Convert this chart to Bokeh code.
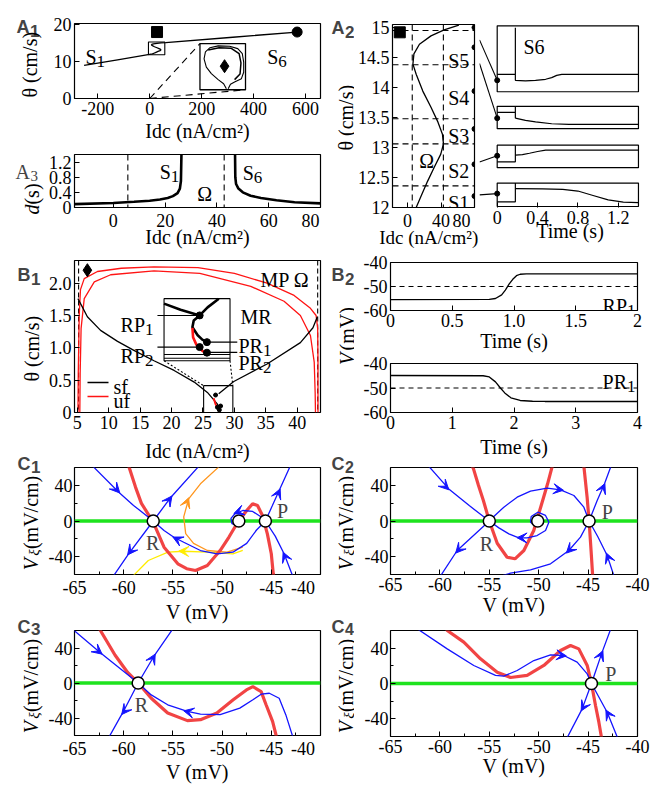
import math
from bokeh.plotting import figure
from bokeh.layouts import row, column
from bokeh.models import (Range1d, FixedTicker, Label, Arrow, VeeHead,
                          ColumnDataSource, Span)
from bokeh.embed import file_html
from bokeh.resources import INLINE

SERIF = "Liberation Serif"
SANS = "Liberation Sans"
BLUE = "#1414ff"
RED_C = "#f03a3a"
RED_B = "#ff1414"
GREEN = "#1ee31e"
ORANGE = "#ff961e"
YELLOW = "#ffec00"
NB = "\u00a0"

# ======================= DATA =======================
# A1 : theta vs Idc (S1 branch, S-fold (A2), S6 branch)
a1_s1_idc = [-253, -124, 10.3]
a1_s1_theta = [8.9, 10.42, 12.0]
a2_idc = [10.3, 16.2, 24.0, 31.9, 39.7, 42.9, 41.7, 35.8, 28.0, 18.2, 10.3, 6.4, 7.6, 14.2, 28.0, 43.7, 61.3]
a2_theta = [12.0, 12.19, 12.44, 12.67, 12.89, 13.06, 13.22, 13.44, 13.67, 13.94, 14.22, 14.39, 14.56, 14.72, 14.86, 14.96, 15.04]
a1_s6_idc = [61.3, 320, 568]
a1_s6_theta = [15.04, 16.5, 17.9]
a1_square = ([28], [17.9])
a1_circle = ([568], [17.9])
a1_zoom_box = (-5, 58, 11.8, 15.2)
a1_inset_box = (193.5, 369, 2.35, 14.8)
a1_in_outer_u = [0.58, 0.52, 0.40, 0.25, 0.14, 0.09, 0.12, 0.22, 0.40, 0.65, 0.83, 0.93, 0.96, 0.96, 0.91, 0.76, 0.67, 0.62]
a1_in_outer_v = [0.02, 0.13, 0.22, 0.35, 0.49, 0.67, 0.82, 0.91, 0.95, 0.94, 0.89, 0.78, 0.60, 0.38, 0.24, 0.17, 0.12, 0.02]
a1_in_inner_u = [0.18, 0.42, 0.68, 0.86, 0.90, 0.88, 0.76]
a1_in_inner_v = [0.86, 0.91, 0.90, 0.78, 0.58, 0.34, 0.22]
a1_in_diamond = ([0.54], [0.51])

# A3 : duration d vs Idc
a3_left_idc = [-15, 0, 8, 14, 18, 21, 23, 24.8, 25.7, 26.1, 26.3]
a3_left_d = [0.09, 0.12, 0.15, 0.18, 0.21, 0.25, 0.30, 0.38, 0.50, 0.70, 1.40]
a3_right_idc = [47.0, 47.1, 47.4, 48.3, 50.0, 53.0, 57.0, 63.0, 70.0, 80.0]
a3_right_d = [1.40, 0.80, 0.62, 0.50, 0.40, 0.31, 0.25, 0.19, 0.14, 0.11]
omega_idc = [5.6, 42.8]

# A2 : fold levels and sampled points
a2_levels = [14.95, 14.38, 13.48, 13.06, 12.36]
a2_dot_theta = [15.0, 14.67, 13.94, 13.31, 12.72, 12.19]
a2_square = ([-9.3], [14.92])
a2_linked_theta = [15.0, 14.67, 12.72, 12.19]
# A2 time traces (normalised 0..1 inside each small box)
s6_t = [0, 0.18, 0.18, 0.18, 0.28, 0.38, 0.48, 0.54, 0.59, 0.64, 1.4]
s6_v = [0.264, 0.264, 0.97, 0.174, 0.164, 0.174, 0.189, 0.214, 0.249, 0.264, 0.264]
s5_box_t = [0, 0.18, 0.18, 0.18]
s5_box_v = [0.73, 0.73, 1.0, 0.47]
s5_t = [0.18, 0.28, 0.38, 0.54, 0.71, 1.4]
s5_v = [0.47, 0.37, 0.30, 0.22, 0.19, 0.19]
s2_box_t = [0, 0.18, 0.18]
s2_box_v = [0.26, 0.26, 1.0]
s2_t = [0.18, 0.25, 0.32, 0.40, 0.48, 1.4]
s2_v = [0.56, 0.58, 0.64, 0.72, 0.78, 0.78]
s1_box_t = [0, 0.18, 0.18]
s1_box_v = [0.20, 0.20, 1.0]
s1_t = [0.18, 0.45, 0.65, 0.80, 0.95, 1.10, 1.25, 1.4]
s1_v = [0.76, 0.75, 0.73, 0.66, 0.47, 0.28, 0.19, 0.17]
sub_dot_v = [0.174, 0.47, 0.53, 0.55]
sub_t_end = 1.4

# B1 : theta vs Idc, stable (sf) / unstable (uf) fronts
b1_red_outer_x = [5.1, 5.15, 5.3, 5.5, 6.1, 8.2, 12.0, 17.2, 24.2, 30.0, 35.2, 39.5, 42.1, 43.0, 43.25, 43.3, 43.3]
b1_red_outer_y = [0.0, 0.6, 1.5, 1.9, 2.07, 2.18, 2.23, 2.25, 2.24, 2.15, 2.0, 1.81, 1.61, 1.5, 1.3, 0.8, 0.0]
b1_red_inner_x = [5.4, 5.45, 5.6, 6.1, 7.7, 10.3, 17.2, 24.5, 32.6, 37.9, 40.5, 42.1, 42.7, 42.85, 42.9]
b1_red_inner_y = [0.0, 0.6, 1.3, 1.76, 2.02, 2.13, 2.19, 2.15, 1.95, 1.72, 1.5, 1.19, 0.78, 0.3, 0.0]
b1_blk_left_x = [5.1, 6.6, 8.7, 11.4, 14.0, 17.2, 20.4, 23.6, 25.7, 27.3, 27.8]
b1_blk_left_y = [1.76, 1.48, 1.27, 1.10, 0.96, 0.80, 0.65, 0.47, 0.31, 0.13, 0.03]
b1_blk_right_x = [27.5, 29.9, 35.2, 40.5, 42.5, 43.2]
b1_blk_right_y = [0.29, 0.48, 0.75, 1.08, 1.31, 1.48]
b1_small_red_x = [26.7, 27.0, 27.4]
b1_small_red_y = [0.22, 0.13, 0.05]
b1_small_dots = ([27.0, 27.3, 27.8, 27.6], [0.27, 0.08, 0.10, 0.04])
b1_small_box = (25.1, 29.75, 0.0, 0.415)
b1_inset_box = (18.8, 29.3, 0.80, 1.76)
b1_diamond = ([6.6], [2.2])
b1_omega_idc = [5.2, 43.25]
in_blk_a = ([0, 0.25, 0.54], [0.92, 0.82, 0.73])
in_blk_b = ([0.54, 0.66, 0.83], [0.73, 0.86, 1.0])
in_blk_c = ([0.54, 0.45, 0.43, 0.51, 0.58, 0.65], [0.73, 0.65, 0.54, 0.41, 0.34, 0.30])
in_red_c = ([0.43, 0.44, 0.49, 0.54, 0.58, 0.63], [0.53, 0.38, 0.26, 0.22, 0.16, 0.13])
in_dots = ([0.54, 0.65, 0.54, 0.65], [0.73, 0.30, 0.22, 0.13])
in_rp1 = ([-0.1, 0.54], [0.73, 0.73])
in_rp2 = ([-0.1, 0.54], [0.22, 0.22])
in_pr1 = ([0.65, 1.11], [0.30, 0.30])
in_pr2 = ([0.65, 1.11], [0.135, 0.135])
in_band1 = ([0, 1], [0.10, 0.10])
in_band2 = ([0, 1], [0.04, 0.04])
b1_legend = [("sf", "black"), ("uf", RED_B)]

# B2 : voltage traces
b2_rp1_t = [0, 0.8, 0.85, 0.9, 0.93, 0.96, 0.99, 1.02, 1.05, 1.1, 2]
b2_rp1_v = [-55.5, -55.4, -55.0, -53.5, -51.5, -49.0, -47.0, -45.5, -44.9, -44.7, -44.7]
b2_pr1_t = [0, 1.5, 1.6, 1.7, 1.78, 1.85, 1.95, 2.1, 2.3, 2.5, 4]
b2_pr1_v = [-44.9, -45.0, -45.5, -47.5, -50.0, -52.0, -54.0, -55.1, -55.4, -55.5, -55.5]
b2_threshold = -50

# C1..C4 phase planes (V, V_xi)
c1_red = ([-59.7, -59.4, -58.8, -58.2, -57.0, -55.9, -54.5, -53.6, -52.7, -51.5, -50.2, -49.3, -48.5, -47.5, -46.9, -46.4, -45.9, -45.4, -45.0, -44.8, -44.7],
          [68, 58.5, 38, 19.8, -1.3, -29.4, -48.0, -53.5, -55.5, -49.9, -33.1, -18, -3.1, 11.8, 19.3, 17.4, 6.2, -14.4, -36.8, -59.2, -68])
c1_blue = [
    ([-63.1, -60.5, -59.0, -57.0], [61, 32.3, 17.5, 0]),
    ([-57.0, -55.2, -52.4], [0, 26.7, 61]),
    ([-57.0, -59.5, -61.0], [0, -36.8, -61]),
    ([-45.6, -46.5, -47.5, -48.9, -50.5, -52.2, -53.9, -54.9, -55.9, -57.0], [0, -10.1, -25.1, -35.0, -36.8, -33.1, -23.8, -18.2, -10.6, 0]),
    ([-45.6, -44.9, -44.2, -43.1], [0, 17, 34.2, 61]),
    ([-42.85, -43.7, -44.6, -45.6], [-61, -36.8, -17, 0]),
    ([-45.6, -46.1, -46.9, -47.9, -48.7, -49.1, -49.0, -48.5, -48.0], [0, 5.1, 10.7, 11.8, 8.1, 3, -3, -5, -3]),
]
c1_orange = ([-50.3, -52.2, -53.4, -53.9, -53.7, -52.9, -51.5, -49.5, -47.9], [61, 41.7, 24.9, 4.6, -14.1, -25.1, -33.1, -35.0, -29.4])
c1_yellow = ([-59.0, -57.5, -55.5, -53.9, -51.5, -48.9, -47.9], [-61, -44.3, -35.0, -33.9, -35.0, -36.8, -33.0])
c1_arrows_blue = ([-61.2, -55.7, -58.9, -54.0, -48.0, -43.4, -44.5], [41, 19, -28, -23.5, 11.6, -45, 26],
                  [-60.4, -55.1, -59.6, -55.0, -48.8, -43.8, -44.1], [31.5, 28, -38, -18, 8.5, -35, 36])
c1_arrows_orange = ([-53.75], [16], [-53.4], [26])
c1_arrows_yellow = ([-53.2], [-34.2], [-54.4], [-33.7])
c1_nodes = ([-57.0, -48.3, -45.6], [0, 0, 0])

c2_red = [([-56.9, -56.6, -56.1, -55.6, -55.0, -54.2, -53.2, -52.4, -51.5, -50.5, -49.8, -49.1, -48.7, -48.5],
           [65, 58.5, 40, 23, 0, -25, -40.6, -42.4, -33.1, -10.6, 15.5, 41.7, 58.5, 65]),
          ([-45.5, -45.4, -45.1, -44.9, -44.7, -44.55, -44.5], [65, 58.5, 26.7, 0, -33.1, -59.2, -65])]
c2_blue = [
    ([-61.1, -59.1, -57.0, -55.0], [61, 36, 17, 0]),
    ([-55.0, -58.25, -59.9], [0, -33.1, -61]),
    ([-50.49, -50.16, -49.75, -49.82, -50.32, -50.83, -50.76, -50.09, -49.31, -48.97, -49.31, -50.16, -51.17, -52.01, -53.02, -54.03, -55.0],
     [2.4, 4.3, 1.3, -3.9, -5.4, -1.3, 5.0, 9.9, 6.2, -1.3, -10.7, -16.3, -18.9, -18.9, -14.4, -7.7, 0]),
    ([-55.0, -54.6, -53.53, -52.18, -50.83, -49.14, -47.79, -46.44, -45.43, -44.9], [0, 4.5, 15.5, 26.7, 33.5, 36.8, 35.0, 28.6, 15.5, 0]),
    ([-44.9, -45.77, -46.95, -48.8, -50.83, -52.85, -53.6], [0, -18.1, -33.1, -48.0, -54.8, -58.5, -61]),
    ([-44.9, -44.08, -43.34, -42.7], [0, 23.0, 41.7, 61]),
    ([-42.4, -43.07, -44.0, -44.9], [-61, -38.7, -18, 0]),
]
c2_arrows = ([-60.0, -57.6, -48.6, -51.2, -46.4, -43.7, -42.75], [45, -26, 36.3, -19.0, -27, 32, -47],
             [-59.1, -58.4, -47.5, -52.2, -47.2, -43.3, -43.15], [35, -36, 34.5, -18.7, -36, 42, -36])
c2_nodes = ([-55.0, -50.1, -44.9], [0, 0, 0])

c3_red = ([-62.6, -62.37, -60.87, -59.6, -58.53, -57.2, -55.53, -53.53, -52.2, -50.53, -48.87, -47.53, -46.87, -46.03, -45.53, -44.87, -44.53, -44.45],
          [65, 60, 31.7, 12, 0, -17.4, -34.3, -43.0, -41.9, -34.3, -19.2, -7.9, -4.2, -9.8, -24.9, -43.8, -58.9, -65])
c3_blue = [
    ([-65.2, -62.37, -58.53], [61.5, 34.7, 0]),
    ([-58.53, -56.87, -55.0], [0, 31.7, 62]),
    ([-58.53, -60.03, -61.5], [0, -32.5, -62]),
    ([-58.53, -57.2, -55.53, -53.53, -52.2, -50.2, -48.2, -46.87, -46.03, -45.2, -44.2, -43.53, -42.8],
     [0, -13.6, -24.9, -32.5, -35.5, -36.2, -28.7, -19.2, -12.8, -11.7, -17.4, -36.2, -62]),
]
c3_arrows = ([-63.2, -57.3, -59.5, -52.8], [42, 23, -26, -34.6], [-62.2, -56.8, -60.2, -53.9], [33, 33, -36, -31.8])
c3_nodes = ([-58.53], [0])

c4_red = ([-59.5, -59.26, -57.58, -55.89, -54.2, -52.85, -51.17, -49.48, -47.79, -46.78, -45.94, -45.09, -44.66, -44.25, -43.91, -43.68, -43.6],
          [65, 60, 46.8, 27.9, 12.8, 6.8, 9.1, 20.4, 37.4, 43.0, 39.2, 20.4, 0, -24.9, -43.8, -58.9, -65])
c4_blue = [
    ([-62.3, -59.26, -56.57, -54.37, -53.53, -52.18, -50.49, -48.8, -47.46, -46.11, -45.09, -44.66],
     [62, 39.2, 20.4, 9.1, 8.3, 14.7, 26.0, 32.5, 31.7, 24.2, 10.9, 0]),
    ([-44.66, -43.58, -42.7], [0, 35.5, 62]),
    ([-44.66, -45.6, -47.15], [0, -28.7, -62]),
    ([-42.0, -43.07, -44.66], [-62, -32.5, 0]),
]
c4_arrows = ([-48.3, -43.9, -45.2, -42.7], [32.6, 27, -21, -40], [-47.2, -43.5, -45.7, -43.2], [31.2, 37, -31, -30])
c4_nodes = ([-44.66], [0])

c_xticks = [-65, -60, -55, -50, -45, -40]
c_xminor = [-62.5, -57.5, -52.5, -47.5, -42.5]
c_yticks = [-40, 0, 40]
c_yminor = [-20, 20]

# ======================= HELPERS =======================
WT = {' ': .25, NB: .25, '(': .333, ')': .333, '/': .278, '.': .25, '-': .333, 'A': .722, 'B': .667,
      'C': .667, 'I': .333, 'M': .889, 'P': .556, 'R': .667, 'S': .556, 'T': .611, 'V': .722,
      'a': .444, 'c': .444, 'd': .5, 'e': .444, 'f': .333, 'i': .278, 'm': .778, 'n': .5,
      's': .389, 'u': .5, 'θ': .5, 'ξ': .45, 'Ω': .768}


def tw(s, size):
    return sum(WT.get(ch, .5) for ch in s) * size


class Pan:
    def __init__(self, ox, oy, w, h, xr, yr, bl, br, bt, bb, xaxis=True, yaxis=True, outline=True):
        p = figure(width=w, height=h, x_range=Range1d(*xr), y_range=Range1d(*yr),
                   output_backend="svg", toolbar_location=None,
                   x_axis_location=("below" if xaxis else None),
                   y_axis_location=("left" if yaxis else None),
                   min_border_left=bl, min_border_right=br,
                   min_border_top=bt, min_border_bottom=bb)
        p.title.visible = False
        p.xgrid.visible = False
        p.ygrid.visible = False
        p.outline_line_color = "black" if outline else None
        p.outline_line_width = 1.2
        p.border_fill_color = "white"
        p.background_fill_color = "white"
        self.fig = p
        self.fx0, self.fx1 = ox + bl, ox + w - br
        self.fy0, self.fy1 = oy + bt, oy + h - bb
        self.xr, self.yr = xr, yr

    def d(self, px, py):
        x = self.xr[0] + (px - self.fx0) / (self.fx1 - self.fx0) * (self.xr[1] - self.xr[0])
        y = self.yr[1] - (py - self.fy0) / (self.fy1 - self.fy0) * (self.yr[1] - self.yr[0])
        return x, y

    def p(self, x, y):
        px = self.fx0 + (x - self.xr[0]) / (self.xr[1] - self.xr[0]) * (self.fx1 - self.fx0)
        py = self.fy0 + (self.yr[1] - y) / (self.yr[1] - self.yr[0]) * (self.fy1 - self.fy0)
        return px, py


def textpan(ox, oy, w, h):
    return Pan(ox, oy, w, h, (ox, ox + w), (-(oy + h), -oy), 0, 0, 0, 0,
               xaxis=False, yaxis=False, outline=False)


def ticks(ax, major, labels, minor=()):
    ax.ticker = FixedTicker(ticks=list(major), minor_ticks=list(minor))
    ax.major_label_overrides = {m: l for m, l in zip(major, labels)}
    ax.major_label_text_font = SERIF
    ax.major_label_text_font_size = "18px"
    ax.major_label_text_color = "black"
    ax.major_label_standoff = 3
    ax.major_tick_in = 5
    ax.major_tick_out = 0
    ax.minor_tick_in = 3
    ax.minor_tick_out = 0
    ax.major_tick_line_color = "black"
    ax.minor_tick_line_color = "black"
    ax.axis_line_color = None


def xlabel(ax, text, standoff, size=20):
    ax.axis_label = text
    ax.axis_label_text_font = SERIF
    ax.axis_label_text_font_size = f"{size}px"
    ax.axis_label_text_font_style = "normal"
    ax.axis_label_text_color = "black"
    ax.axis_label_standoff = standoff


def put(pan, px, py, pieces, angle=0.0, align="center", font=SERIF):
    total = sum(tw(t, s) for t, s, _, _ in pieces)
    main = pieces[0][1]
    cum = {"center": -total / 2, "left": 0, "right": -total}[align]
    for t, s, st, dy in pieces:
        if angle == 0:
            x, y = px + cum, py + 0.33 * main + dy
        else:
            x, y = px + 0.33 * main + dy, py - cum
        X, Y = pan.d(x, y)
        pan.fig.add_layout(Label(x=X, y=Y, text=t, text_font=font, text_font_size=f"{s}px",
                                 text_font_style=st, text_color="black", text_align="left",
                                 text_baseline="alphabetic", angle=angle))
        cum += tw(t, s)


def tag(pan, px, base, letter, digit, font=SANS, style="bold", size=18, dsize=17, ddy=4):
    for t, x, b, s in [(letter, px, base, size), (digit, px + 0.722 * size + 0.5, base + ddy, dsize)]:
        X, Y = pan.d(x, b)
        pan.fig.add_layout(Label(x=X, y=Y, text=t, text_font=font, text_font_style=style,
                                 text_font_size=f"{s}px", text_align="left", text_baseline="alphabetic"))


def sub(main, digit, size=20, dsize=17, ddy=4):
    return [(main, size, "normal", 0), (digit, dsize, "normal", ddy)]


IDC = "Idc (nA/cm²)"
THETA = [("θ (cm/s)", 20, "normal", 0)]
VMV_R = [("V", 20, "italic", 0), (" (mV)", 20, "normal", 0)]
VXI = [("V", 20, "italic", 0), ("ξ", 15, "italic", 3), (" (mV/cm)", 20, "normal", 0)]


def boxmap(u, v, box):
    x0, x1, y0, y1 = box
    return [x0 + a * (x1 - x0) for a in u], [y0 + b * (y1 - y0) for b in v]


def dspan(f, loc, dim, dash="6 4", width=1.1):
    f.add_layout(Span(location=loc, dimension=dim, line_color="black", line_dash=dash,
                      line_width=width, level="underlay"))


def heads(f, arr, color, size=10):
    x0, y0, x1, y1 = arr
    src = ColumnDataSource(dict(x0=x0, y0=y0, x1=x1, y1=y1))
    f.add_layout(Arrow(source=src, x_start="x0", y_start="y0", x_end="x1", y_end="y1",
                       line_alpha=0, end=VeeHead(size=size, fill_color=color, line_color=color)))


# ======================= TEXT COLUMNS =======================
tl = textpan(0, 0, 44, 785)     # left margin texts
tr = textpan(328, 0, 26, 785)   # right margin texts

# ======================= A1 =======================
a1 = Pan(44, 0, 284, 148, (-290, 658), (0, 20.2), 29, 6, 23, 50)
f = a1.fig
ticks(f.xaxis[0], [-200, 0, 200, 400, 600], ["-200", "0", "200", "400", "600"])
ticks(f.yaxis[0], [0, 10, 20], ["0", "10", "20"])
xlabel(f.xaxis[0], IDC, 2)
f.line(a1_s1_idc + a2_idc + a1_s6_idc, a1_s1_theta + a2_theta + a1_s6_theta, color="black", line_width=1.3)
zb = a1_zoom_box
f.quad(left=[zb[0]], right=[zb[1]], bottom=[zb[2]], top=[zb[3]], fill_alpha=0, line_color="black", line_width=1.1)
ib = a1_inset_box
f.line([0, ib[0]], [0, ib[3]], color="black", line_dash="7 5", line_width=1.1)
f.line([0, ib[1]], [0, ib[2]], color="black", line_dash="7 5", line_width=1.1)
f.quad(left=[ib[0]], right=[ib[1]], bottom=[ib[2]], top=[ib[3]], fill_color="white", line_color="black", line_width=1.3)
xs, ys = boxmap(a1_in_outer_u, a1_in_outer_v, ib)
f.line(xs, ys, color="black", line_width=1.1)
xs, ys = boxmap(a1_in_inner_u, a1_in_inner_v, ib)
f.line(xs, ys, color="black", line_width=1.5)
xs, ys = boxmap(*a1_in_diamond, ib)
f.scatter(xs, ys, marker="diamond", size=13, color="black")
f.scatter(*a1_square, marker="square", size=11, color="black")
f.scatter(*a1_circle, marker="circle", size=10, color="black")
put(a1, 94, 50, sub("S", "1"))
put(a1, 278, 50, sub("S", "6"))
tag(tl, 16, 26, "A", "1")
put(tl, 23, 64, THETA, angle=math.pi / 2)

# ======================= A3 =======================
a3 = Pan(44, 148, 284, 102, (-15, 80), (0, 1.4), 29, 6, 6, 43)
f = a3.fig
ticks(f.xaxis[0], [0, 20, 40, 60, 80], ["0", "20", "40", "60", "80" + NB * 2])
ticks(f.yaxis[0], [0, 0.4, 0.8, 1.2], ["0", "0.4", "0.8", "1.2"])
xlabel(f.xaxis[0], IDC, -8)
for xv in omega_idc:
    dspan(f, xv, "height")
f.line(a3_left_idc, a3_left_d, color="black", line_width=2.6)
f.line(a3_right_idc, a3_right_d, color="black", line_width=2.6)
put(a3, 169, 165, sub("S", "1"))
put(a3, 253, 166, sub("S", "6"))
put(a3, 205, 187, [("Ω", 20, "normal", 0)])
tag(tl, 15, 171, "A", "3", font=SERIF, style="normal", size=20, dsize=15, ddy=4)
put(tl, 25, 196, [("d", 20, "italic", 0), (" (s)", 20, "normal", 0)], angle=math.pi / 2)

# ======================= A2 =======================
a2 = Pan(354, 0, 125, 250, (-18, 80), (12, 15.05), 36, 5, 24, 43)
f = a2.fig
ticks(f.xaxis[0], [0, 40, 80], ["0", "40", "80" + NB * 2])
ticks(f.yaxis[0], [12, 12.5, 13, 13.5, 14, 14.5, 15], ["12", "12.5", "13", "13.5", "14", "14.5", "15"])
xlabel(f.xaxis[0], IDC + NB * 2, -7, 19)
for xv in omega_idc:
    dspan(f, xv, "height")
for yv in a2_levels:
    dspan(f, yv, "width")
f.line(a2_idc, a2_theta, color="black", line_width=1.3)
f.scatter([80] * len(a2_dot_theta), a2_dot_theta, size=5, color="black")
f.scatter(*a2_square, marker="square", size=11, color="black")
put(a2, 425, 154, [("Ω", 20, "normal", 0)])
for lab, yy in [("S5", 54), ("S4", 91), ("S3", 129), ("S2", 164), ("S1", 196)]:
    put(a2, 447, yy, [(lab, 20, "normal", 0)], align="left")
tag(tr, 331, 27, "A", "2")
put(tr, 339, 117, THETA, angle=math.pi / 2)

# A2 time traces: one figure holding the four small boxes and the connectors
sb_fig = Pan(479, 0, 177, 250, (-0.1754, 1.4202), (-208, -23), 0, 16, 23, 42, xaxis=True, yaxis=False, outline=False)
g = sb_fig.fig
ticks(g.xaxis[0], [0, 0.4, 0.8, 1.2], ["0", "0.4", "0.8", "1.2"])
xlabel(g.xaxis[0], NB * 4 + "Time (s)", -7)
sub_bands = [(-91, -24.3), (-128.3, -105.7), (-167.7, -145), (-207, -183.3)]
g.quad(left=[0] * 4, right=[sub_t_end] * 4, bottom=[b[0] for b in sub_bands], top=[b[1] for b in sub_bands],
       fill_alpha=0, line_color="black", line_width=1.2)
traces = [[(s6_t, s6_v)], [(s5_box_t, s5_box_v), (s5_t, s5_v)],
          [(s2_box_t, s2_box_v), (s2_t, s2_v)], [(s1_box_t, s1_box_v), (s1_t, s1_v)]]
for (b0, b1_), trs in zip(sub_bands, traces):
    for tt, vv in trs:
        g.line(tt, [b0 + v * (b1_ - b0) for v in vv], color="black", line_width=1.2)
dot_y = [b0 + v * (b1_ - b0) for (b0, b1_), v in zip(sub_bands, sub_dot_v)]
g.scatter([0] * 4, dot_y, size=5, color="black")
for th, yend in zip(a2_linked_theta, dot_y):
    ystart = -a2.p(80, th)[1]
    slope = (yend - ystart) / (0 - (-0.1754 - 5 / 100.9))
    g.line([-0.1754, 0], [ystart + slope * (5 / 100.9), yend], color="black", line_width=1.1)
put(sb_fig, 523, 39, [("S6", 20, "normal", 0)], align="left")

# ======================= B1 =======================
b1 = Pan(44, 250, 284, 215, (4.55, 43.7), (0, 2.35), 30, 8, 10, 53)
f = b1.fig
ticks(f.xaxis[0], [5, 10, 15, 20, 25, 30, 35, 40], ["5", "10", "15", "20", "25", "30", "35", "40"])
ticks(f.yaxis[0], [0, 0.5, 1.0, 1.5, 2.0], ["0", "0.5", "1.0", "1.5", "2.0"])
xlabel(f.xaxis[0], IDC, 8)
for xv in b1_omega_idc:
    dspan(f, xv, "height", dash="5 3")
f.line(b1_red_outer_x, b1_red_outer_y, color=RED_B, line_width=1.3)
f.line(b1_red_inner_x, b1_red_inner_y, color=RED_B, line_width=1.3)
f.line(b1_blk_left_x, b1_blk_left_y, color="black", line_width=1.3)
f.line(b1_blk_right_x, b1_blk_right_y, color="black", line_width=1.3)
f.line(b1_small_red_x, b1_small_red_y, color=RED_B, line_width=2)
f.scatter(*b1_small_dots, size=4, color="black")
sb = b1_small_box
f.quad(left=[sb[0]], right=[sb[1]], bottom=[sb[2]], top=[sb[3]], fill_alpha=0, line_color="black", line_width=1.1)
bb_ = b1_inset_box
f.line([bb_[0], sb[0]], [bb_[2], sb[3]], color="black", line_dash="2 2", line_width=1.1)
f.line([bb_[1], sb[1]], [bb_[2], sb[3]], color="black", line_dash="2 2", line_width=1.1)
f.quad(left=[bb_[0]], right=[bb_[1]], bottom=[bb_[2]], top=[bb_[3]], fill_color="white", line_color="black", line_width=1.1)
for seg in [in_band1, in_band2, in_rp1, in_rp2, in_pr1, in_pr2]:
    xs, ys = boxmap(*seg, bb_)
    f.line(xs, ys, color="black", line_width=1.1)
for seg in [in_blk_a, in_blk_b, in_blk_c]:
    xs, ys = boxmap(*seg, bb_)
    f.line(xs, ys, color="black", line_width=2.6)
xs, ys = boxmap(*in_red_c, bb_)
f.line(xs, ys, color=RED_B, line_width=2.6)
xs, ys = boxmap(*in_dots, bb_)
f.scatter(xs, ys, size=7, color="black")
f.scatter(*b1_diamond, marker="diamond", size=13, color="black")
# legend keys (sf / uf)
for (name, col), ly in zip(b1_legend, [382, 396]):
    xa, ya = b1.d(87, ly)
    xb, _ = b1.d(108, ly)
    f.line([xa, xb], [ya, ya], color=col, line_width=1.3)
    put(b1, 113, ly - 2, [(name, 20, "normal", 0)], align="left")
put(b1, 153, 318, sub("RP", "1"), align="right")
put(b1, 153, 349, sub("RP", "2"), align="right")
put(b1, 240, 310, [("MR", 20, "normal", 0)], align="left")
put(b1, 238, 339, sub("PR", "1"), align="left")
put(b1, 238, 356, sub("PR", "2"), align="left")
put(b1, 260, 273, [("MP  Ω", 20, "normal", 0)], align="left")
tag(tl, 17, 274, "B", "1")
put(tl, 25, 348, THETA, angle=math.pi / 2)

# ======================= B2 =======================
b2a = Pan(354, 250, 302, 104, (0, 2), (-60, -40), 36, 19, 12, 44)
f = b2a.fig
ticks(f.xaxis[0], [0, 0.5, 1.0, 1.5, 2], ["0", "0.5", "1.0", "1.5", "2"])
ticks(f.yaxis[0], [-60, -50, -40], ["-60", "-50", "-40"])
xlabel(f.xaxis[0], "Time (s)", 0)
dspan(f, b2_threshold, "width", dash="5 4")
f.line(b2_rp1_t, b2_rp1_v, color="black", line_width=1.3)
put(b2a, 635, 299, sub("RP", "1"), align="right")

b2b = Pan(354, 354, 302, 111, (0, 4), (-60, -40), 36, 19, 9, 53)
f = b2b.fig
ticks(f.xaxis[0], [0, 1, 2, 3, 4], ["0", "1", "2", "3", "4"])
ticks(f.yaxis[0], [-60, -50, -40], ["-60", "-50", "-40"])
xlabel(f.xaxis[0], "Time (s)", 4)
dspan(f, b2_threshold, "width", dash="5 4")
f.line(b2_pr1_t, b2_pr1_v, color="black", line_width=1.3)
put(b2b, 635, 375, sub("PR", "1"), align="right")
tag(tr, 331, 274, "B", "2")
put(tr, 340, 333, VMV_R, angle=math.pi / 2)


# ======================= C panels =======================
def cpanel(pan, reds, blues, arrows, nodes, labels, last_pad, lab_size, lab_off):
    f = pan.fig
    xl = [str(v) for v in c_xticks]
    xl[-1] = xl[-1] + NB * last_pad
    ticks(f.xaxis[0], c_xticks, xl, c_xminor)
    ticks(f.yaxis[0], c_yticks, [str(v) for v in c_yticks], c_yminor)
    f.yaxis[0].major_label_standoff = 2
    xlabel(f.xaxis[0], "V (mV)", lab_off, lab_size)
    f.add_layout(Span(location=0, dimension="width", line_color=GREEN, line_width=3.5, level="underlay"))
    for rx, ry in reds:
        f.line(rx, ry, color=RED_C, line_width=3.2, line_alpha=0.95)
    for bx, by in blues:
        f.line(bx, by, color=BLUE, line_width=1.3)
    for arr, col in arrows:
        heads(f, arr, col)
    f.scatter(*nodes, marker="circle", size=12, fill_color="white", line_color="black", line_width=1.5)
    for t, x, y in labels:
        f.add_layout(Label(x=x, y=y, text=t, text_font=SERIF, text_font_size="20px",
                           text_align="center", text_baseline="middle"))


c1 = Pan(44, 465, 284, 164, (-65, -40), (-60, 60), 28, 6, 2, 55)
c1.fig.line(*c1_orange, color=ORANGE, line_width=1.3)
c1.fig.line(*c1_yellow, color=YELLOW, line_width=1.3)
cpanel(c1, [c1_red], c1_blue,
       [(c1_arrows_blue, BLUE), (c1_arrows_orange, ORANGE), (c1_arrows_yellow, YELLOW)],
       c1_nodes, [("R", -57.05, -24.7), ("P", -43.85, 11.2)], 3, 20, 0)
tag(tl, 17, 463, "C", "1", ddy=3)
put(tl, 24, 520, VXI, angle=math.pi / 2)

c2 = Pan(354, 465, 302, 164, (-65, -40), (-60, 60), 36, 19, 2, 55)
cpanel(c2, c2_red, c2_blue, [(c2_arrows, BLUE)], c2_nodes,
       [("R", -55.3, -26.3), ("P", -43.05, 10.1)], 0, 20, 0)
tag(tr, 331, 463, "C", "2", ddy=3, dsize=16)
put(tr, 339, 520, VXI, angle=math.pi / 2)

c3 = Pan(44, 629, 284, 156, (-65, -40), (-60, 60), 28, 6, 1, 49)
cpanel(c3, [c3_red], c3_blue, [(c3_arrows, BLUE)], c3_nodes, [("R", -58.2, -24.9)], 3, 20, -1)
tag(tl, 17, 626, "C", "3", ddy=2)
put(tl, 24, 683, VXI, angle=math.pi / 2)

c4 = Pan(354, 629, 302, 156, (-65, -40), (-60, 60), 36, 19, 1, 49)
cpanel(c4, [c4_red], c4_blue, [(c4_arrows, BLUE)], c4_nodes, [("P", -42.7, 11.3)], 0, 20, -1)
tag(tr, 331, 626, "C", "4", ddy=2, dsize=16)
put(tr, 339, 683, VXI, angle=math.pi / 2)

# ======================= LAYOUT =======================
left_plots = column(a1.fig, a3.fig, b1.fig, c1.fig, c3.fig)
right_plots = column(row(a2.fig, sb_fig.fig), b2a.fig, b2b.fig, c2.fig, c4.fig)
root = row(tl.fig, left_plots, tr.fig, right_plots)
open("out.html", "w").write(file_html(root, INLINE, title="chart"))
